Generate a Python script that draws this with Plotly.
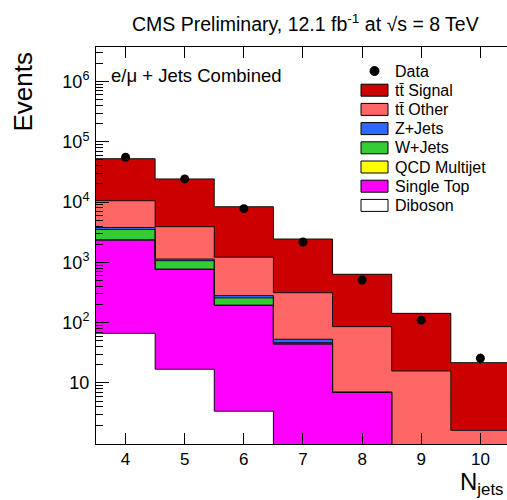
import numpy as np
import plotly.graph_objects as go

# Jet multiplicity bins
n_jets = [4, 5, 6, 7, 8, 9, 10]

# Observed events
data_events = [55300, 24200, 7770, 2180, 510, 110, 25.7]

# Expected events per process
tt_signal = [41960, 20290, 7170, 2126, 549, 127, 20.1]
tt_other = [6750, 2770, 936, 261, 79, 15.8, 1.64]
z_jets = [275, 70, 24, 6.5, 0, 0, 0]
w_jets = [1165, 298, 63, 2.2, 0, 0, 0]
qcd_multijet = [0, 0, 0, 0, 0, 0, 0]
single_top = [2283, 752, 191, 44.4, 7.0, 0, 0]
diboson = [66.7, 16.9, 3.4, 0, 0, 0, 0]

# Axis tick labels
x_tick_labels = ["4", "5", "6", "7", "8", "9", "10"]
y_tick_values = [10, 1e2, 1e3, 1e4, 1e5, 1e6]
y_tick_labels = ["10", "10<sup>2</sup>", "10<sup>3</sup>", "10<sup>4</sup>",
                 "10<sup>5</sup>", "10<sup>6</sup>"]

# Stack order, bottom to top
processes = [
    ("Diboson", diboson, "#ffffff"),
    ("Single Top", single_top, "#ff00ff"),
    ("QCD Multijet", qcd_multijet, "#ffff00"),
    ("W+Jets", w_jets, "#33cc33"),
    ("Z+Jets", z_jets, "#3366ff"),
    ("tt\u0304 Other", tt_other, "#ff6666"),
    ("tt\u0304 Signal", tt_signal, "#cc0000"),
]

FONT = "Liberation Sans, Arial, Helvetica, sans-serif"
W, H = 507, 500
L, R, T, B = 96, 0, 47, 56


def px_x(px):
    return (px - L) / (W - L - R)


def px_y(py):
    return (H - B - py) / (H - T - B)


centers = np.array(n_jets, dtype=float)
edges = np.append(centers - 0.5, centers[-1] + 0.5)
cumulative = np.cumsum([np.array(v, dtype=float) for _, v, _ in processes], axis=0)

fig = go.Figure()

# Filled stack: largest cumulative first so smaller ones sit on top
for (name, _, color), cum in reversed(list(zip(processes, cumulative))):
    fig.add_trace(go.Bar(
        x=centers, y=cum, width=1.0, marker=dict(color=color, line=dict(width=0)),
        name=name, showlegend=False, hoverinfo="skip",
    ))

# Step outlines of each stacked level
floor = 1e-3
for cum in cumulative:
    yv = np.where(cum > 0, cum, floor)
    fig.add_trace(go.Scatter(
        x=edges, y=np.append(yv, yv[-1]), mode="lines", line_shape="hv",
        line=dict(color="#111111", width=1), showlegend=False, hoverinfo="skip",
    ))

# Data points with Poisson errors
fig.add_trace(go.Scatter(
    x=centers, y=data_events, mode="markers",
    marker=dict(color="black", size=9, symbol="circle"),
    error_y=dict(type="data", array=np.sqrt(data_events), color="black",
                 thickness=1, width=0),
    name="Data", showlegend=False,
))

y_range = [-0.012, 6.572]
minor_vals = [k * 10.0 ** e for e in range(0, 7) for k in range(2, 10)]

fig.update_layout(
    width=W, height=H,
    margin=dict(l=L, r=R, t=T, b=B),
    paper_bgcolor="white", plot_bgcolor="white",
    barmode="overlay", bargap=0,
    font=dict(family=FONT, color="black"),
    showlegend=False,
    xaxis=dict(
        range=[3.5, 10.45], tickvals=n_jets, ticktext=x_tick_labels,
        ticks="inside", ticklen=11, tickcolor="black", tickwidth=1,
        showline=True, linecolor="black", linewidth=1, mirror="ticks",
        showgrid=False, zeroline=False, tickfont=dict(size=17),
    ),
    yaxis=dict(
        type="log", range=y_range, tickvals=y_tick_values, ticktext=y_tick_labels,
        ticks="inside", ticklen=13, tickcolor="black", tickwidth=1,
        minor=dict(tickvals=minor_vals, ticks="inside", ticklen=7,
                   tickcolor="black", showgrid=False),
        showline=True, linecolor="black", linewidth=1,
        showgrid=False, zeroline=False, tickfont=dict(size=18),
        ticklabelstandoff=2,
    ),
    yaxis2=dict(
        type="log", range=y_range, overlaying="y", side="right", anchor="x",
        tickvals=y_tick_values, showticklabels=False,
        ticks="inside", ticklen=10, tickcolor="black", tickwidth=1,
        minor=dict(tickvals=minor_vals, ticks="inside", ticklen=4,
                   tickcolor="black", showgrid=False),
        showline=False, showgrid=False, zeroline=False,
    ),
)

annotations = [
    dict(text="CMS Preliminary, 12.1 fb<sup>-1</sup> at \u221As = 8 TeV",
         x=px_x(481), y=px_y(23), xanchor="right", yanchor="middle",
         font=dict(size=19.5)),
    dict(text="Events", textangle=-90, x=px_x(22.5), y=px_y(50),
         xanchor="center", yanchor="top", font=dict(size=26)),
    dict(text="N<sub>jets</sub>", x=px_x(505), y=px_y(466),
         xanchor="right", yanchor="top", font=dict(size=24)),
    dict(text="e/\u03BC + Jets Combined", x=px_x(109), y=px_y(75),
         xanchor="left", yanchor="middle", font=dict(size=18.5)),
]

# Legend block
row0, pitch = 71.0, 19.2
legend_entries = [("Data", None)] + [(n, c) for n, _, c in reversed(processes)]
shapes = []
for i, (label, color) in enumerate(legend_entries):
    yc = row0 + i * pitch
    if color is None:
        shapes.append(dict(type="circle", xref="paper", yref="paper",
                           xsizemode="pixel", ysizemode="pixel",
                           xanchor=px_x(374.5), yanchor=px_y(yc),
                           x0=-4.5, x1=4.5, y0=-4.5, y1=4.5,
                           fillcolor="black", line=dict(color="black", width=1)))
    else:
        shapes.append(dict(type="rect", xref="paper", yref="paper",
                           x0=px_x(361), x1=px_x(388),
                           y0=px_y(yc + 6), y1=px_y(yc - 6),
                           fillcolor=color, line=dict(color="black", width=1)))
    annotations.append(dict(text=label, x=px_x(393), y=px_y(yc),
                            xanchor="left", yanchor="middle",
                            font=dict(size=16), showarrow=False))

for a in annotations:
    a.setdefault("xref", "paper")
    a.setdefault("yref", "paper")
    a.setdefault("showarrow", False)

fig.update_layout(annotations=annotations, shapes=shapes)

fig.write_html("out.html")
